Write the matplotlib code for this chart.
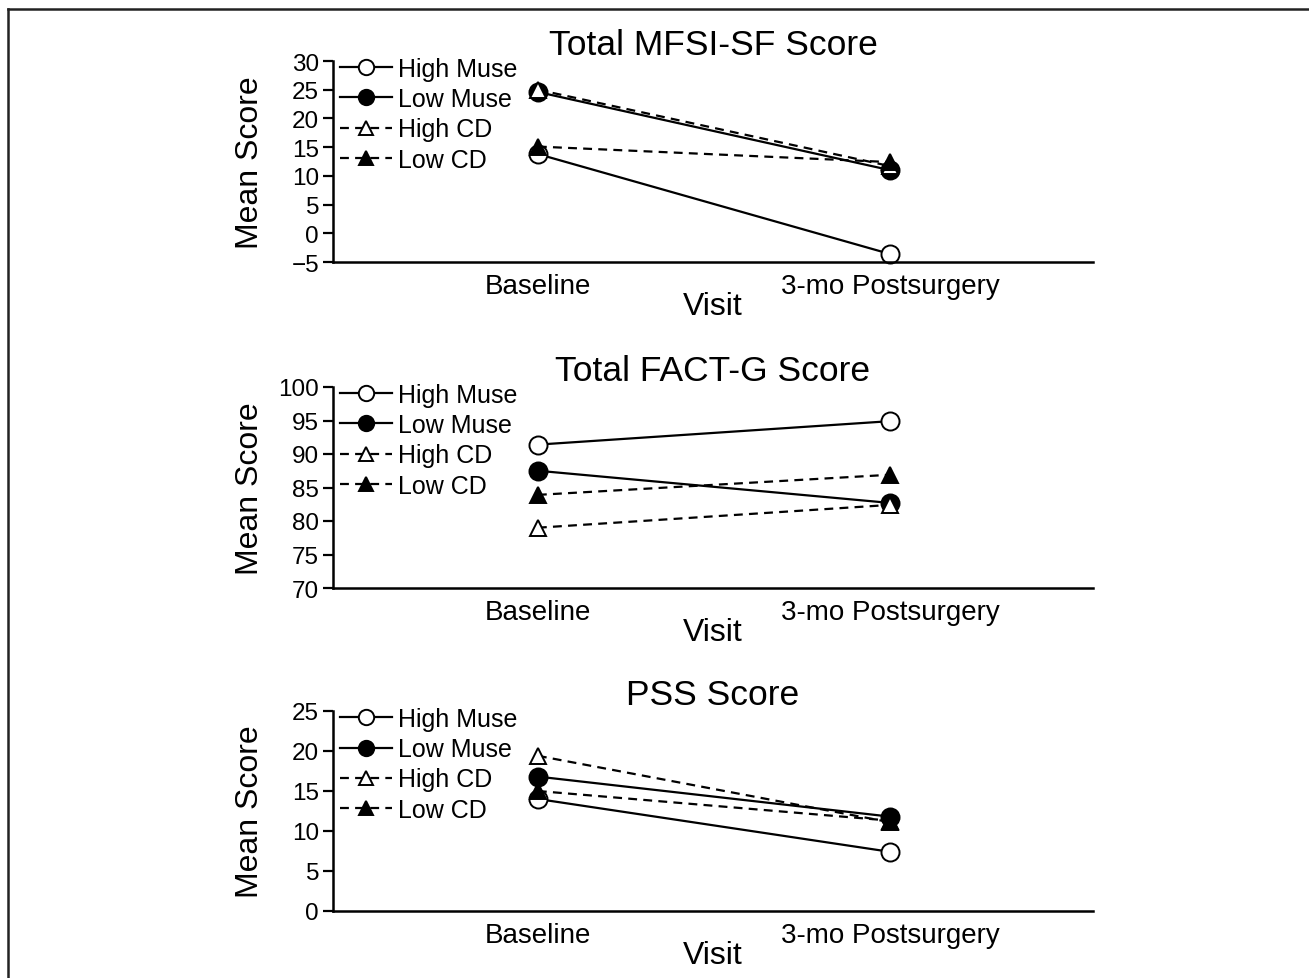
import matplotlib
matplotlib.use("Agg")
import matplotlib.pyplot as plt
from matplotlib.lines import Line2D

plt.rcParams["font.family"] = ["Liberation Sans", "DejaVu Sans"]

visits = ["Baseline", "3-mo Postsurgery"]
groups = ["High Muse", "Low Muse", "High CD", "Low CD"]

titles = ["Total MFSI-SF Score", "Total FACT-G Score", "PSS Score"]

mfsi_high_muse = [13.8, -3.6]
mfsi_low_muse = [24.6, 11.0]
mfsi_high_cd = [25.0, 11.7]
mfsi_low_cd = [15.1, 12.4]

factg_high_muse = [91.4, 94.9]
factg_low_muse = [87.5, 82.7]
factg_high_cd = [79.0, 82.4]
factg_low_cd = [83.9, 86.9]

pss_high_muse = [14.0, 7.4]
pss_low_muse = [16.8, 11.8]
pss_high_cd = [19.4, 11.1]
pss_low_cd = [15.0, 11.3]

yticks = [
    [-5, 0, 5, 10, 15, 20, 25, 30],
    [70, 75, 80, 85, 90, 95, 100],
    [0, 5, 10, 15, 20, 25],
]

panels = [
    [mfsi_high_muse, mfsi_low_muse, mfsi_high_cd, mfsi_low_cd],
    [factg_high_muse, factg_low_muse, factg_high_cd, factg_low_cd],
    [pss_high_muse, pss_low_muse, pss_high_cd, pss_low_cd],
]

# style per group: (linestyle, marker, facecolor)
styles = [
    ("-", "o", "white"),
    ("-", "o", "black"),
    ("--", "^", "white"),
    ("--", "^", "black"),
]

fig = plt.figure(figsize=(13.09, 9.79), dpi=100)

# frame lines at top and left of the image
fig.add_artist(Line2D([8 / 1309, 8 / 1309], [0, 1 - 10 / 979], transform=fig.transFigure,
                      color="#222222", lw=1.8))
fig.add_artist(Line2D([8 / 1309, 1], [1 - 10 / 979, 1 - 10 / 979], transform=fig.transFigure,
                      color="#222222", lw=1.8))

rects = [
    [333 / 1309, 1 - 263 / 979, 760 / 1309, 201 / 979],
    [333 / 1309, 1 - 589 / 979, 760 / 1309, 201 / 979],
    [333 / 1309, 1 - 912 / 979, 760 / 1309, 200 / 979],
]

x = [0, 1]
for rect, title, series, ticks in zip(rects, titles, panels, yticks):
    ax = fig.add_axes(rect)
    handles = []
    for vals, name, (ls, mk, fc) in zip(series, groups, styles):
        ms = 13 if mk == "o" else 12
        (h,) = ax.plot(x, vals, linestyle=ls, color="black", lw=1.6,
                       marker=mk, markersize=ms, markerfacecolor=fc,
                       markeredgecolor="black", markeredgewidth=1.4,
                       label=name, clip_on=False)
        if ls == "--":
            h.set_dashes((4, 2.8))
        handles.append(h)

    ax.set_xlim(-0.582, 1.577)
    ax.set_ylim(ticks[0], ticks[-1])
    ax.set_yticks(ticks)
    ax.set_yticklabels([str(t).replace("-", "\u2212") for t in ticks])
    ax.set_xticks(x)
    ax.set_xticklabels(visits, fontsize=20)
    ax.tick_params(axis="x", length=0, pad=8)
    ax.tick_params(axis="y", length=7, width=1.6, labelsize=17.5, pad=3, direction="out")
    for s in ["top", "right"]:
        ax.spines[s].set_visible(False)
    for s in ["left", "bottom"]:
        ax.spines[s].set_linewidth(1.8)

    ax.set_title(title, fontsize=25.5, pad=3)
    ax.set_xlabel("Visit", fontsize=23, labelpad=-6)
    ax.set_ylabel("Mean Score", fontsize=23)
    ax.yaxis.set_label_coords(-0.089, 0.5)

    ax.legend(handles=handles, loc="upper left", bbox_to_anchor=(0.002, 1.045),
              frameon=False, fontsize=18, handlelength=2.1, handletextpad=0.25,
              labelspacing=0.25, markerscale=0.85, borderaxespad=0.0, borderpad=0.2)

fig.savefig("out.png", dpi=100, facecolor="white")
